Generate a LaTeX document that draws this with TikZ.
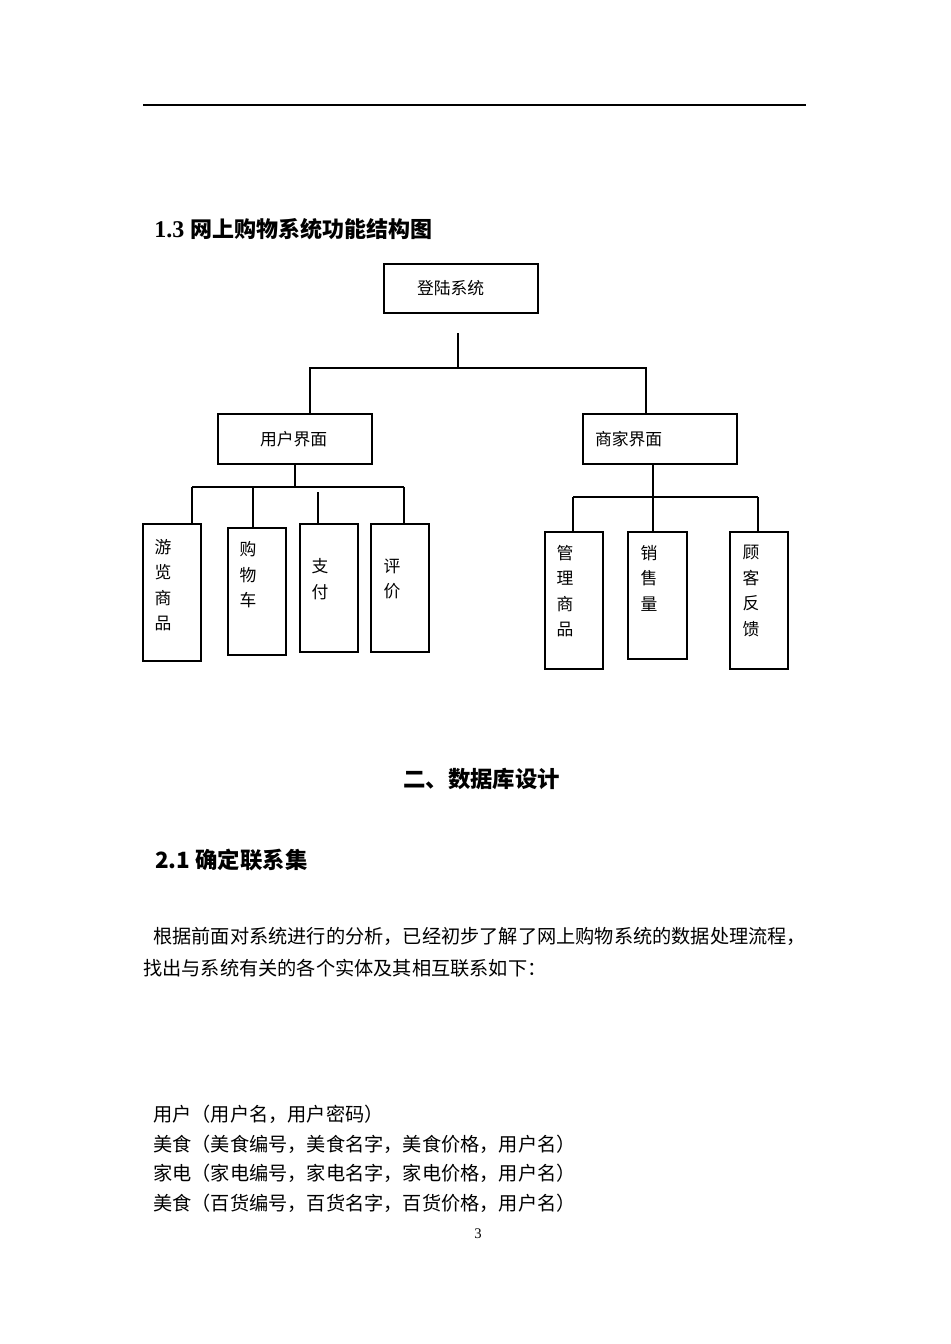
\documentclass[tikz,border=0pt]{standalone}
\usepackage{fontspec}
\setmainfont{Liberation Serif}
\newfontfamily\cjk{Noto Sans CJK SC}
\usepackage{tikz}
\usetikzlibrary{positioning, fit}
\tikzset{
  % framed box of the chart, label inside
  levelbox/.style={
    rectangle, draw=black, line width=1.5pt,
    align=left, inner ysep=0pt,
    minimum height=37.5pt,
    font=\cjk\fontsize{12.6pt}{15pt}\selectfont
  },
  % tall leaf box (frame only)
  leafbox/.style={rectangle, draw=black, line width=1.5pt, inner sep=0pt},
  % label written top to bottom
  vtext/.style={
    align=center, inner sep=0pt,
    font=\cjk\fontsize{12.6pt}{19.1pt}\selectfont
  },
  % connectors
  link/.style={draw=black, line width=1.5pt},
  % page text
  body/.style={anchor=base west, inner sep=0pt,
    font=\cjk\fontsize{14.4pt}{18pt}\selectfont},
  head/.style={anchor=base west, inner sep=0pt,
    font=\cjk\bfseries\fontsize{16.8pt}{20pt}\selectfont},
}

\begin{document}
\begin{tikzpicture}[x=0.75pt, y=-0.75pt]
  \path[use as bounding box, fill=white] (0,0) rectangle (950,1344);

  %% page header rule
  \coordinate (ruleL) at (143,105);
  \coordinate (ruleR) at (806,105);
  \draw[line width=0.9pt] (ruleL) -- (ruleR);

  %% section title
  \node[anchor=base west, inner sep=0pt,
        font=\bfseries\fontsize{18pt}{22pt}\selectfont] (title) at (154,238)
       {1.3 {\cjk\fontsize{16.5pt}{20pt}\selectfont 网上购物系统功能结构图}};

  %% top levels
  \node[levelbox, inner xsep=24.75pt, text width=66pt, minimum height=36.75pt]
       (login) at (461,288.5) {登陆系统};
  \node[levelbox, inner xsep=31.5pt, text width=52.5pt] (user) at (295,439) {用户界面};
  \node[levelbox, inner xsep=9pt, text width=97.5pt] (shop) at (660,439) {商家界面};

  %% leaves: name / corners / text centre / text
  \foreach \nm/\xa/\ya/\xb/\yb/\tx/\ty/\txt in {
    browse/143/524/201/661/163/585/{游\\览\\商\\品},
    cart/228/528/286/655/248/575/{购\\物\\车},
    pay/300/524/358/652/320/579/{支\\付},
    rate/371/524/429/652/392/579/{评\\价},
    manage/545/532/603/669/565/591/{管\\理\\商\\品},
    sales/628/532/687/659/649/578/{销\\售\\量},
    feedback/730/532/788/669/751/591/{顾\\客\\反\\馈}}{
    \node[leafbox, fit={(\xa,\ya) (\xb,\yb)}] (\nm) {};
    \node[vtext] (\nm-t) at (\tx,\ty) {\txt};
  }

  %% root to the two interfaces
  \coordinate (trunk) at (458,333);
  \coordinate (busL) at (310,368);
  \coordinate (busR) at (646,368);
  \draw[link] (trunk) -- (trunk |- busL);
  \draw[link] (user.north -| busL) |- (busR) -- (shop.north -| busR);

  %% user side
  \foreach \nm/\x/\y in {browse/192/487, cart/253/487, pay/318/492, rate/404/487}
    \coordinate (d-\nm) at (\x,\y);
  \draw[link] (d-browse) -- (d-rate);
  \draw[link] (user.south) -- (user.south |- d-browse);
  \foreach \nm in {browse,cart,pay,rate}
    \draw[link] (d-\nm) -- (d-\nm |- \nm.north);

  %% merchant side
  \foreach \nm/\x in {manage/573, sales/653, feedback/758}
    \coordinate (d-\nm) at (\x,497);
  \draw[link] (d-manage) -- (d-feedback);
  \draw[link] (d-sales |- shop.south) -- (d-sales);
  \foreach \nm in {manage,sales,feedback}
    \draw[link] (d-\nm) -- (d-\nm |- \nm.north);

  %% section two
  \node[head] (sec2) at (403,787.5) {二、数据库设计};
  \node[head] (sec21) at (155,868.5) {2.1 确定联系集};
  \node[body] (par1) at (153,943.3)
       {根据前面对系统进行的分析，已经初步了解了网上购物系统的数据处理流程，};
  \node[body] (par2) at (143,975.3) {找出与系统有关的各个实体及其相互联系如下：};

  %% entity list
  \foreach \i/\y/\txt in {
    1/1121.3/{用户（用户名，用户密码）},
    2/1151.3/{美食（美食编号，美食名字，美食价格，用户名）},
    3/1180.3/{家电（家电编号，家电名字，家电价格，用户名）},
    4/1210.3/{美食（百货编号，百货名字，百货价格，用户名）}}
    \node[body] (ent\i) at (153,\y) {\txt};

  %% page number
  \node[anchor=base, inner sep=0pt, font=\fontsize{11pt}{13pt}\selectfont]
       (pageno) at (478,1238) {3};
\end{tikzpicture}
\end{document}
